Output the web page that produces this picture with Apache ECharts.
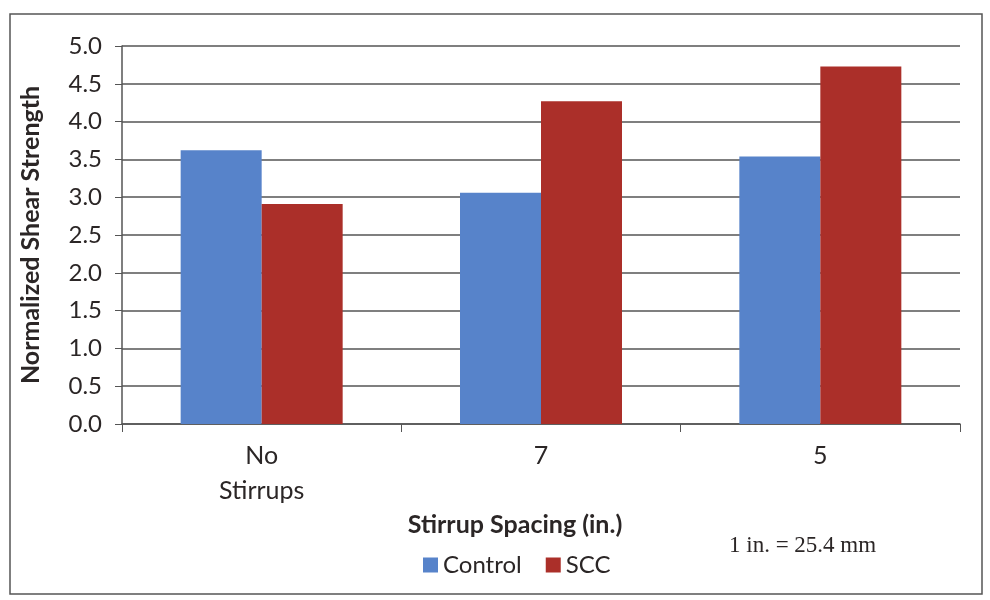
<!DOCTYPE html>
<html><head><meta charset="utf-8">
<script src="https://cdn.jsdelivr.net/npm/echarts@6/dist/echarts.min.js"></script>
<style>html,body{margin:0;padding:0;background:#fff}#c{width:990px;height:600px}</style>
</head><body><div id="c"></div>
<script>
const categories = ['No\nStirrups', '7', '5'];
const controlValues = [3.62, 3.06, 3.54];
const sccValues = [2.91, 4.27, 4.73];
const seriesNames = ['Control', 'SCC'];
const yTicks = {min: 0, max: 5, interval: 0.5};

const FONT = 'Lato, "Open Sans", sans-serif';
const TXT = '#2b2626';
const chart = echarts.init(document.getElementById('c'), null, {renderer: 'canvas'});
chart.setOption({
  backgroundColor: '#ffffff',
  animation: false,
  graphic: [
    {type: 'rect', shape: {x: 10, y: 14, width: 972, height: 580},
     style: {fill: 'none', stroke: '#555', lineWidth: 1.5}},
    {type: 'text', left: 729, top: 534,
     style: {text: '1 in. = 25.4 mm', font: '23px "Liberation Serif", serif', fill: TXT}}
  ],
  grid: {left: 122, right: 30, top: 46, bottom: 176},
  legend: {
    data: seriesNames, left: 418, top: 548, itemWidth: 15, itemHeight: 15, itemGap: 24,
    icon: 'rect',
    textStyle: {fontFamily: FONT, fontSize: 24, color: TXT}
  },
  xAxis: {
    type: 'category', data: categories,
    name: 'Stirrup Spacing (in.)', nameLocation: 'middle', nameGap: 84,
    nameTextStyle: {fontFamily: FONT, fontSize: 25, fontWeight: 'bold', color: TXT, padding: [0, 52, 0, 0]},
    axisLine: {lineStyle: {color: '#555', width: 1.5}},
    axisTick: {show: true, length: 8, lineStyle: {color: '#555'}},
    axisLabel: {fontFamily: FONT, fontSize: 25, color: TXT, margin: 14, lineHeight: 35}
  },
  yAxis: {
    type: 'value', min: yTicks.min, max: yTicks.max, interval: yTicks.interval,
    name: 'Normalized Shear Strength', nameLocation: 'middle', nameGap: 79,
    nameTextStyle: {fontFamily: FONT, fontSize: 25, fontWeight: 'bold', color: TXT},
    axisLine: {show: true, lineStyle: {color: '#555', width: 1.5}},
    axisTick: {show: true, length: 7, lineStyle: {color: '#555'}},
    splitLine: {lineStyle: {color: '#555', width: 1.5}},
    axisLabel: {fontFamily: FONT, fontSize: 24, color: TXT, margin: 20,
      formatter: v => v.toFixed(1)}
  },
  series: [
    {name: seriesNames[0], type: 'bar', data: controlValues, barWidth: 81, barGap: '0%',
     itemStyle: {color: '#5783ca'}},
    {name: seriesNames[1], type: 'bar', data: sccValues, barWidth: 81,
     itemStyle: {color: '#ab2f29'}}
  ]
});
</script></body></html>
